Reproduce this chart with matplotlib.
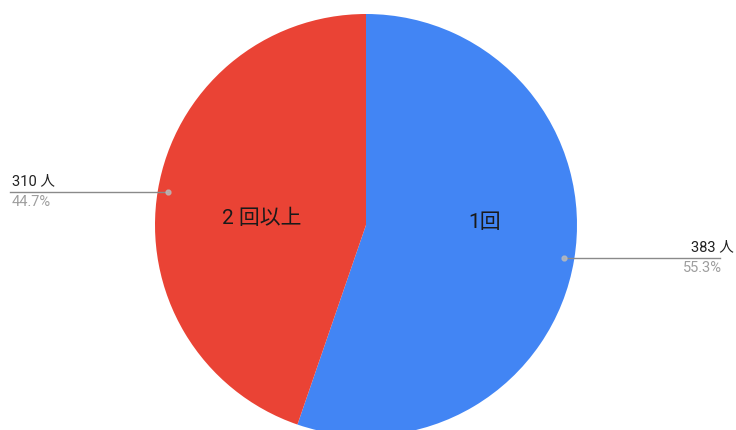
import numpy as np
import matplotlib
matplotlib.use("Agg")
import matplotlib.pyplot as plt

plt.rcParams['font.family'] = ['Roboto', 'Noto Sans CJK JP', 'DejaVu Sans']

# dati
labels = ['1回', '2 回以上']
counts = [383, 310]
colors = ['#4285F4', '#EA4335']

W, H = 736, 430
fig = plt.figure(figsize=(W / 100, H / 100), dpi=100)
ax = fig.add_axes([0, 0, 1, 1])

cx, cy, r = 366, H - 225, 211
wedges, _ = ax.pie(counts, colors=colors, startangle=90, counterclock=False,
                   center=(cx, cy), radius=r, wedgeprops=dict(linewidth=0))
ax.set_xlim(0, W)
ax.set_ylim(0, H)
ax.set_aspect('equal')
ax.axis('off')

total = sum(counts)
for i, w in enumerate(wedges):
    mid = np.deg2rad((w.theta1 + w.theta2) / 2)
    right = np.cos(mid) > 0
    # etichetta interna
    ix = cx + (0.57 if right else 0.5) * r * np.cos(mid)
    iy = cy + (2 if right else 7)
    ax.text(ix, iy, labels[i], ha='center', va='center', fontsize=15,
            color='#1a1a1a')
    # linea verso etichetta esterna
    px = cx + 0.95 * r * np.cos(mid)
    py = cy + 0.95 * r * np.sin(mid)
    if right:
        ex, ha, tx1, tx2 = W - 16, 'right', W - 2, W - 14
    else:
        ex, ha, tx1, tx2 = 10, 'left', 12, 12
    ax.plot([px, ex], [py, py], color='#8a8a8a', lw=1)
    ax.plot(px, py, 'o', ms=3.5, color='#bbbbbb', alpha=0.8)
    ax.text(tx1, py + 4, f'{counts[i]} 人', ha=ha, va='bottom', fontsize=10.5,
            color='#222222')
    ax.text(tx2, py - 3, f'{counts[i] / total * 100:.1f}%', ha=ha, va='top',
            fontsize=10.5, color='#9e9e9e')

fig.savefig('out.png', dpi=100)
